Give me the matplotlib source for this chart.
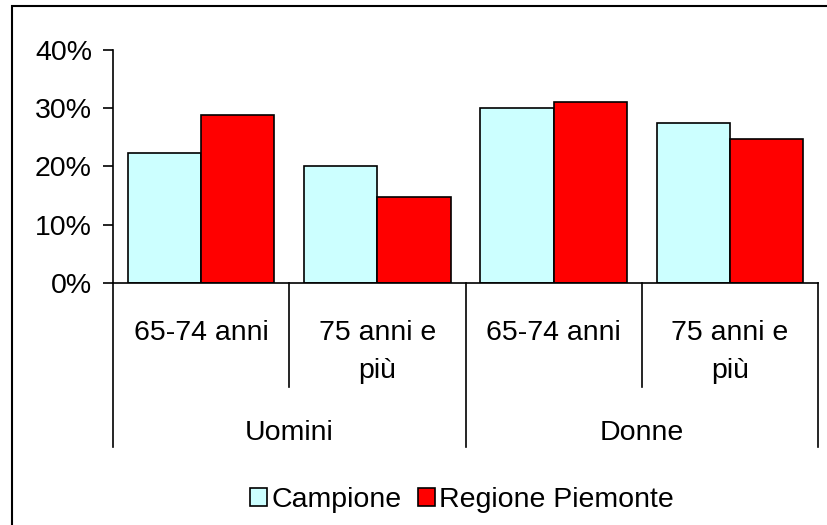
import matplotlib
matplotlib.use("Agg")
import matplotlib.pyplot as plt
import matplotlib.patches as patches
import matplotlib.transforms as transforms

# dati
gruppi = ["Uomini", "Donne"]
eta = ["65-74 anni", "75 anni e\npiù", "65-74 anni", "75 anni e\npiù"]
campione = [22.4, 20.0, 30.0, 27.5]
piemonte = [28.9, 14.8, 31.0, 24.8]
yticks = [0, 10, 20, 30, 40]
ylabels = ["0%", "10%", "20%", "30%", "40%"]

plt.rcParams['font.family'] = ['Liberation Sans', 'DejaVu Sans']
FS = 20.5

fig = plt.figure(figsize=(8.27, 5.25), dpi=100)
W, H = 827, 525
ax = fig.add_axes([113 / W, 1 - 283 / H, (818 - 113) / W, (283 - 50) / H])

# cornice esterna
fig.patches.append(patches.Rectangle((11.5 / W, -0.1), 1.2, 1 - 6 / H + 0.1,
                                     transform=fig.transFigure, fill=False,
                                     edgecolor='black', linewidth=1.5))

x = range(len(campione))
w = 0.415
ax.bar([i + 0.5 - w / 2 for i in x], campione, w, color='#ccffff',
       edgecolor='black', linewidth=1.2, label='Campione')
ax.bar([i + 0.5 + w / 2 for i in x], piemonte, w, color='#ff0000',
       edgecolor='black', linewidth=1.2, label='Regione Piemonte')

ax.set_xlim(0, 4)
ax.set_ylim(0, 40)
ax.set_yticks(yticks)
ax.set_yticklabels(ylabels, fontsize=FS)
ax.tick_params(axis='y', length=7.2, width=1.2, pad=8)
ax.set_xticks([])
for s in ['top', 'right']:
    ax.spines[s].set_visible(False)
ax.spines['left'].set_linewidth(1.2)
ax.spines['bottom'].set_linewidth(1.2)

# separatori e etichette sotto l'asse
hpx = 283 - 50
tr = transforms.blended_transform_factory(ax.transData, ax.transAxes)
for k in range(5):
    ybot = 447 if k % 2 == 0 else 387
    ax.plot([k, k], [0, -(ybot - 283) / hpx], color='black', lw=1.2,
            transform=tr, clip_on=False)
for i, lab in enumerate(eta):
    for n, riga in enumerate(lab.split("\n")):
        ax.text(i + 0.5, -(340 + 38 * n - 283) / hpx, riga, transform=tr,
                ha='center', va='baseline', fontsize=FS)
for j, g in enumerate(gruppi):
    ax.text(2 * j + 1, -(440 - 283) / hpx, g, transform=tr, ha='center',
            va='baseline', fontsize=FS)

fig.legend(loc='center', bbox_to_anchor=(462 / W, 1 - 500 / H), ncol=2,
           frameon=False, fontsize=FS, handlelength=0.62, handleheight=0.62,
           handletextpad=0.15, columnspacing=0.55, borderpad=0)

fig.savefig("out.png", dpi=100)
